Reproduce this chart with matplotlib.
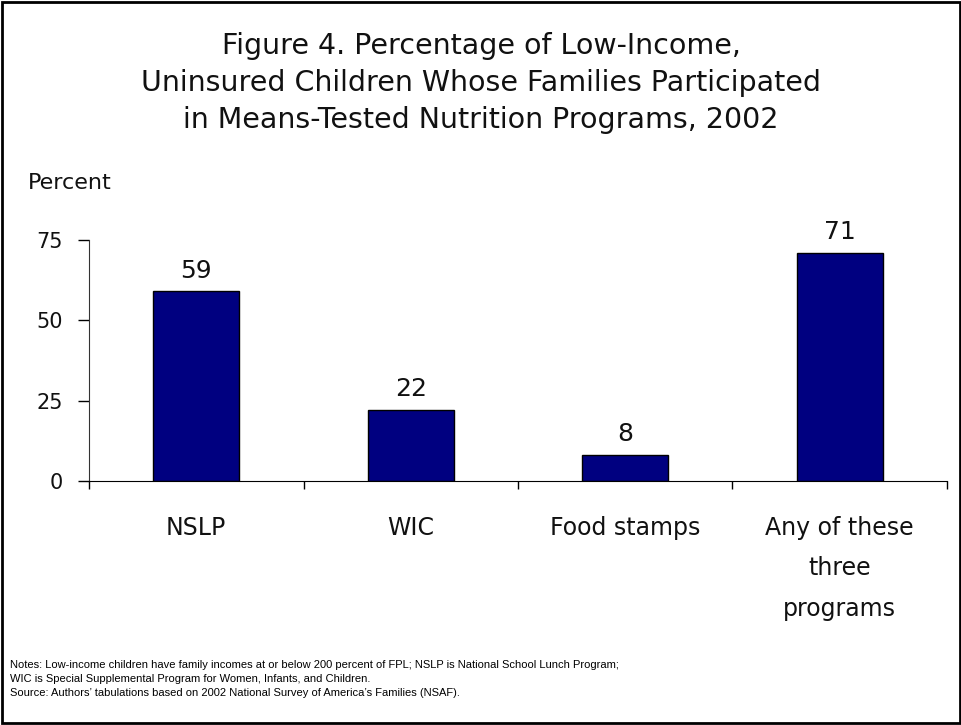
import numpy as np
from matplotlib import pyplot as plt
from matplotlib.patches import Rectangle

# Chart data
categories = ['NSLP', 'WIC', 'Food stamps', 'Any of these\nthree\nprograms']
values = [59, 22, 8, 71]
yticks = [0, 25, 50, 75]

title = ('Figure 4. Percentage of Low-Income,\n'
         'Uninsured Children Whose Families Participated\n'
         'in Means-Tested Nutrition Programs, 2002')
notes = ('Notes: Low-income children have family incomes at or below 200 percent of FPL; '
         'NSLP is National School Lunch Program;\n'
         'WIC is Special Supplemental Program for Women, Infants, and Children.\n'
         'Source: Authors\u2019 tabulations based on 2002 National Survey of America\u2019s Families (NSAF).')

plt.rcParams['font.family'] = 'DejaVu Sans'

fig = plt.figure(figsize=(9.62, 7.25), dpi=100)
W, H = 962, 725

# outer frame
fig.patches.append(Rectangle((2 / W, 2 / H), 1 - 4 / W, 1 - 4 / H, transform=fig.transFigure,
                             fill=False, edgecolor='black', linewidth=2))

ax = fig.add_axes([89 / W, (H - 481) / H, (947 - 89) / W, (481 - 240) / H])

x = np.arange(len(categories))
ax.bar(x, values, width=0.4, color='#000080', edgecolor='black', linewidth=1)

for xi, v in zip(x, values):
    ax.annotate(str(v), (xi, v), xytext=(0, 10), textcoords='offset points',
                ha='center', va='baseline', fontsize=18, color='#111111')

ax.set_xlim(-0.5, len(categories) - 0.5)
ax.set_ylim(0, 75)

# ticks at category boundaries, labels at centres
ax.set_xticks(np.arange(-0.5, len(categories), 1.0))
ax.set_xticklabels([])
ax.set_xticks(x, minor=True)
ax.set_xticklabels(categories, minor=True, fontsize=17, linespacing=1.88, va='top',
                   color='#111111')
ax.tick_params(axis='x', which='major', direction='out', length=6, width=1)
ax.tick_params(axis='x', which='minor', length=0, pad=25)

ax.set_yticks(yticks)
ax.set_yticklabels([str(t) for t in yticks], fontsize=15, color='#111111')
ax.tick_params(axis='y', direction='out', length=8, width=1, pad=11)

for side in ['top', 'right']:
    ax.spines[side].set_visible(False)
ax.spines['left'].set_color('#333333')
ax.spines['bottom'].set_color('black')

fig.text(0.5, 1 - 83 / H, title, ha='center', va='center', fontsize=20.5, linespacing=1.42,
         color='#111111')
fig.text(28 / W, 1 - 183 / H, 'Percent', ha='left', va='center', fontsize=16, color='#111111')
fig.text(10 / W, 1 - 679 / H, notes, ha='left', va='center', fontsize=8,
         family='Liberation Sans', linespacing=1.55)

plt.savefig('out.png', dpi=100)
